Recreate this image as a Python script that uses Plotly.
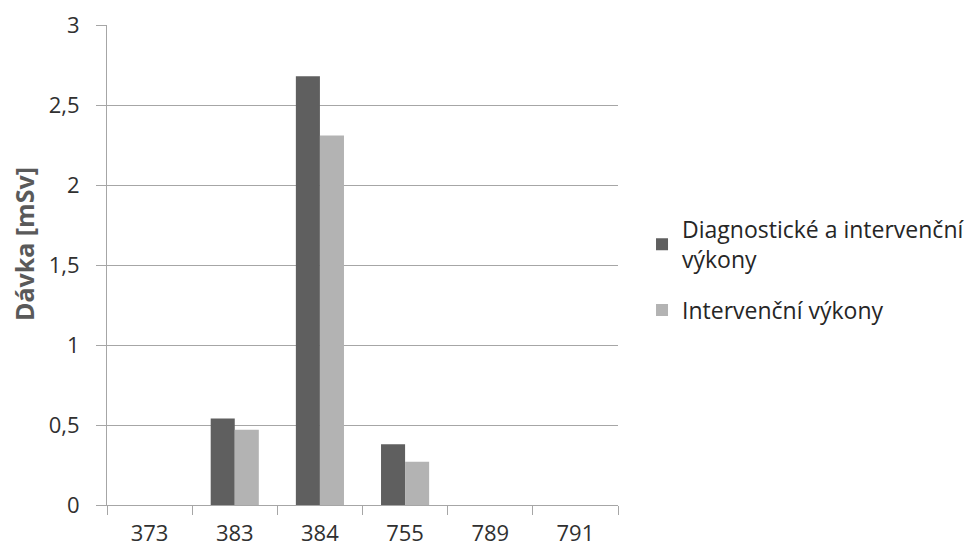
import plotly.graph_objects as go

# Dose per workplace code
categories = ["373", "383", "384", "755", "789", "791"]
diag_interv = [0, 0.54, 2.68, 0.38, 0, 0]
interv_only = [0, 0.47, 2.31, 0.27, 0, 0]

y_ticks = [0, 0.5, 1, 1.5, 2, 2.5, 3]
y_tick_text = ["0", "0,5", "1", "1,5", "2", "2,5", "3"]

FONT = "Open Sans"
GRID = "#a6a6a6"
TEXT = "#303030"

fig = go.Figure()
fig.add_trace(go.Bar(
    x=categories, y=diag_interv,
    name="Diagnostické a intervenční<br>výkony",
    legendgroup="a",
    marker=dict(color="#5f5f5f", line=dict(width=0)),
))
fig.add_trace(go.Bar(
    x=categories, y=interv_only,
    name="Intervenční výkony",
    legendgroup="b",
    marker=dict(color="#b3b3b3", line=dict(width=0)),
))

# vertical axis caption
fig.add_annotation(
    text="<b>Dávka [mSv]</b>", textangle=-90,
    xref="paper", yref="paper", x=-0.162, y=0.544,
    xanchor="center", yanchor="middle", showarrow=False,
    font=dict(family=FONT, size=25, color="#5a5a5a"),
)

fig.update_layout(
    width=972, height=552,
    margin=dict(l=107, r=354, t=25, b=47, autoexpand=False),
    paper_bgcolor="white", plot_bgcolor="white",
    barmode="group", bargap=0.435, bargroupgap=0,
    font=dict(family=FONT, size=22, color=TEXT),
    showlegend=True,
    legend=dict(
        x=1.047, y=0.49, xanchor="left", yanchor="middle",
        font=dict(family=FONT, size=23, color="#262626"),
        tracegroupgap=18, itemwidth=30,
        bgcolor="rgba(0,0,0,0)",
    ),
    xaxis=dict(
        type="category", showgrid=False, automargin=False,
        showline=True, linecolor=GRID, linewidth=1,
        ticks="outside", ticklen=9, tickcolor=GRID,
        tickson="boundaries",
        tickfont=dict(family=FONT, size=22, color=TEXT),
        ticklabelstandoff=9,
        fixedrange=True,
    ),
    yaxis=dict(
        range=[0, 3], tickvals=y_ticks, ticktext=y_tick_text,
        showgrid=True, gridcolor=GRID, gridwidth=1, automargin=False,
        showline=True, linecolor=GRID, linewidth=1,
        ticks="outside", ticklen=10, tickcolor=GRID,
        zeroline=False,
        tickfont=dict(family=FONT, size=22, color=TEXT),
        ticklabelstandoff=12,
        fixedrange=True,
    ),
)

fig.write_html("out.html")
